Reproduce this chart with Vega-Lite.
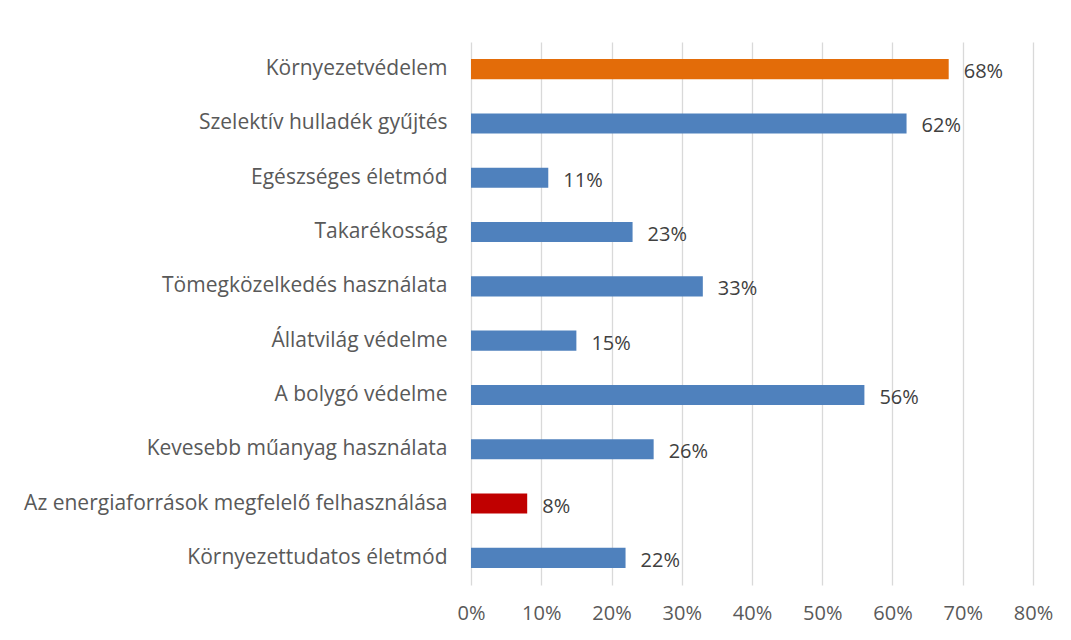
{
  "$schema": "https://vega.github.io/schema/vega-lite/v6.json",
  "autosize": {"type": "none"},
  "width": 562,
  "height": 543,
  "padding": {"left": 471, "top": 42, "right": 38, "bottom": 55},
  "background": "white",
  "config": {"view": {"stroke": null}, "font": "Open Sans"},
  "data": {"values": [
    {"cat": "Környezetvédelem", "v": 0.68, "group": "max"},
    {"cat": "Szelektív hulladék gyűjtés", "v": 0.62, "group": "other"},
    {"cat": "Egészséges életmód", "v": 0.11, "group": "other"},
    {"cat": "Takarékosság", "v": 0.23, "group": "other"},
    {"cat": "Tömegközelkedés használata", "v": 0.33, "group": "other"},
    {"cat": "Állatvilág védelme", "v": 0.15, "group": "other"},
    {"cat": "A bolygó védelme", "v": 0.56, "group": "other"},
    {"cat": "Kevesebb műanyag használata", "v": 0.26, "group": "other"},
    {"cat": "Az energiaforrások megfelelő felhasználása", "v": 0.08, "group": "min"},
    {"cat": "Környezettudatos életmód", "v": 0.22, "group": "other"}
  ]},
  "encoding": {
    "y": {"field": "cat", "type": "nominal", "sort": null,
      "scale": {"paddingInner": 0.63, "paddingOuter": 0.315},
      "axis": {"title": null, "domain": false, "ticks": false, "labelPadding": 24,
        "labelFontSize": 21, "labelColor": "#595959", "labelFont": "Open Sans", "labelFontWeight": "normal", "labelLimit": 600}},
    "x": {"field": "v", "type": "quantitative",
      "scale": {"domain": [0, 0.8], "nice": false},
      "axis": {"title": null, "format": ".0%", "values": [0,0.1,0.2,0.3,0.4,0.5,0.6,0.7,0.8],
        "domain": false, "ticks": false, "labelPadding": 18, "labelFontSize": 20, "labelFlush": false,
        "labelFont": "Open Sans", "labelColor": "#595959", "gridColor": "#D9D9D9", "gridWidth": 1.3}}
  },
  "layer": [
    {"mark": {"type": "bar"},
      "encoding": {"color": {"field": "group", "type": "nominal", "legend": null,
        "scale": {"domain": ["max", "min", "other"], "range": ["#E36C09", "#C00000", "#4F81BD"]}}}},
    {"mark": {"type": "text", "align": "left", "baseline": "middle", "dx": 15, "dy": 3,
      "fontSize": 20, "color": "#404040", "font": "Open Sans"},
      "encoding": {"text": {"field": "v", "type": "quantitative", "format": ".0%"}}}
  ]
}
